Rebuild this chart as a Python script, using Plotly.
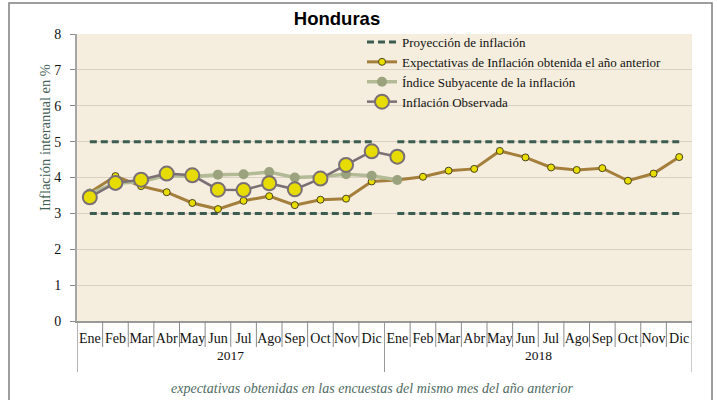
import plotly.graph_objects as go

months = ["Ene", "Feb", "Mar", "Abr", "May", "Jun", "Jul", "Ago", "Sep", "Oct", "Nov", "Dic",
          "Ene", "Feb", "Mar", "Abr", "May", "Jun", "Jul", "Ago", "Sep", "Oct", "Nov", "Dic"]
years = ["2017", "2018"]
y_ticks = [0, 1, 2, 3, 4, 5, 6, 7, 8]

proj_high_2017 = [5, 5, 5, 5, 5, 5, 5, 5, 5, 5, 5, 5]
proj_high_2018 = [5, 5, 5, 5, 5, 5, 5, 5, 5, 5, 5, 5]
proj_low_2017 = [3, 3, 3, 3, 3, 3, 3, 3, 3, 3, 3, 3]
proj_low_2018 = [3, 3, 3, 3, 3, 3, 3, 3, 3, 3, 3, 3]

expectativas = [3.58, 4.04, 3.76, 3.59, 3.29, 3.12, 3.35, 3.48, 3.23, 3.38, 3.41, 3.89,
                3.93, 4.02, 4.19, 4.24, 4.74, 4.56, 4.28, 4.21, 4.26, 3.91, 4.11, 4.57]
subyacente = [3.55, 3.84, 3.88, 4.06, 4.03, 4.08, 4.09, 4.15, 4.00, 4.03, 4.09, 4.05, 3.93]
observada = [3.45, 3.85, 3.94, 4.11, 4.06, 3.66, 3.65, 3.84, 3.67, 3.97, 4.35, 4.73, 4.58]

serif = "Liberation Serif"
idx = list(range(len(months)))

# Projection with a break between years
segments = [(0, proj_high_2017), (12, proj_high_2018), (0, proj_low_2017), (12, proj_low_2018)]
px_, py_ = [], []
for start, vals in segments:
    px_ += idx[start:start + len(vals)] + [None]
    py_ += vals + [None]

fig = go.Figure()
fig.add_trace(go.Scatter(
    x=px_, y=py_, mode="lines", name="Proyección de inflación",
    line=dict(color="#3b5c50", width=3, dash="7px,4px"), connectgaps=False))
fig.add_trace(go.Scatter(
    x=idx, y=expectativas, mode="lines+markers",
    name="Expectativas de Inflación obtenida el año anterior",
    line=dict(color="#a47e3b", width=3),
    marker=dict(size=7, color="#e8de00", line=dict(color="#4a4220", width=1))))
fig.add_trace(go.Scatter(
    x=idx[:len(subyacente)], y=subyacente, mode="lines+markers",
    name="Índice Subyacente de la inflación",
    line=dict(color="#b2ba96", width=3.5),
    marker=dict(size=10, color="#9aa37e", line=dict(color="#9aa37e", width=0))))
fig.add_trace(go.Scatter(
    x=idx[:len(observada)], y=observada, mode="lines+markers",
    name="Inflación Observada",
    line=dict(color="#7a6f75", width=2.5),
    marker=dict(size=14, color="#e6dc00", line=dict(color="#7a6f75", width=2))))

L, R, T, B = 77, 25, 34, 79
W, H = 717, 400
pw, ph = W - L - R, H - T - B

def py(pix):
    return (H - B - pix) / ph

def pxp(pix):
    return (pix - L) / pw

shapes = []
# outer border
shapes.append(dict(type="rect", xref="paper", yref="paper",
                   x0=pxp(9), x1=pxp(712), y0=py(420), y1=py(3),
                   line=dict(color="#7f7f7f", width=1.5), fillcolor="rgba(0,0,0,0)", layer="below"))
# legend backing (covers gridlines behind legend)
shapes.append(dict(type="rect", xref="paper", yref="paper",
                   x0=pxp(346), x1=1, y0=py(103), y1=1,
                   line=dict(width=0), fillcolor="#f5eddd", layer="between"))
# month dividers
for i in range(1, 24):
    if i == 12:
        continue
    shapes.append(dict(type="line", xref="x", yref="paper", x0=i - 0.5, x1=i - 0.5,
                       y0=0, y1=py(347), line=dict(color="#8a8a8a", width=1)))
# year dividers
for i in (0, 12, 24):
    shapes.append(dict(type="line", xref="x", yref="paper", x0=i - 0.5, x1=i - 0.5,
                       y0=0, y1=py(372), line=dict(color="#9a9a9a", width=1.5 if i == 0 else 1)))

annotations = [
    dict(text="2017", x=5.5, xref="x", y=py(365), yref="paper", showarrow=False,
         font=dict(family=serif, size=13.5, color="#111")),
    dict(text="2018", x=17.5, xref="x", y=py(365), yref="paper", showarrow=False,
         font=dict(family=serif, size=13.5, color="#111")),
    dict(text="<i>expectativas obtenidas en las encuestas del mismo mes del año anterior</i>",
         x=pxp(372), xref="paper", xanchor="center", y=py(388), yref="paper", yanchor="middle",
         showarrow=False, font=dict(family=serif, size=14, color="#4f6b62")),
    dict(text="Inflación interanual en %", textangle=-90, x=pxp(45), xref="paper",
         xanchor="center", y=py(138), yref="paper", yanchor="middle", showarrow=False,
         font=dict(family=serif, size=14.5, color="#3f5e55")),
]

fig.update_layout(
    width=W, height=H,
    margin=dict(l=L, r=R, t=T, b=B),
    paper_bgcolor="white",
    plot_bgcolor="#f5eddd",
    title=dict(text="<b>Honduras</b>", x=337 / W, xanchor="center", y=1 - 19 / H, yanchor="middle",
               font=dict(family="Liberation Sans", size=18.5, color="#000")),
    showlegend=True,
    legend=dict(x=pxp(362), xanchor="left", y=1 + 7 / ph, yanchor="top",
                bgcolor="rgba(0,0,0,0)", borderwidth=0,
                font=dict(family=serif, size=13, color="#111"),
                tracegroupgap=0, itemwidth=30),
    xaxis=dict(range=[-0.5, 23.5], tickmode="array", tickvals=idx, ticktext=months,
               showgrid=False, zeroline=False, showline=True, linecolor="#999", linewidth=1.5,
               ticks="outside", ticklen=3, tickcolor="rgba(0,0,0,0)", tickangle=0,
               tickfont=dict(family=serif, size=14, color="#111")),
    yaxis=dict(range=[0, 8], tickmode="array", tickvals=y_ticks,
               showgrid=True, gridcolor="#d9cfc5", gridwidth=1.2, zeroline=False,
               showline=True, linecolor="#a5a5a5", linewidth=2,
               ticks="outside", ticklen=5, tickcolor="#8a8a8a", ticklabelstandoff=6,
               tickfont=dict(family=serif, size=14, color="#111")),
    shapes=shapes,
    annotations=annotations,
)

fig.write_html("out.html", config={"displayModeBar": False},
               post_script="document.body.style.margin='0px';")
